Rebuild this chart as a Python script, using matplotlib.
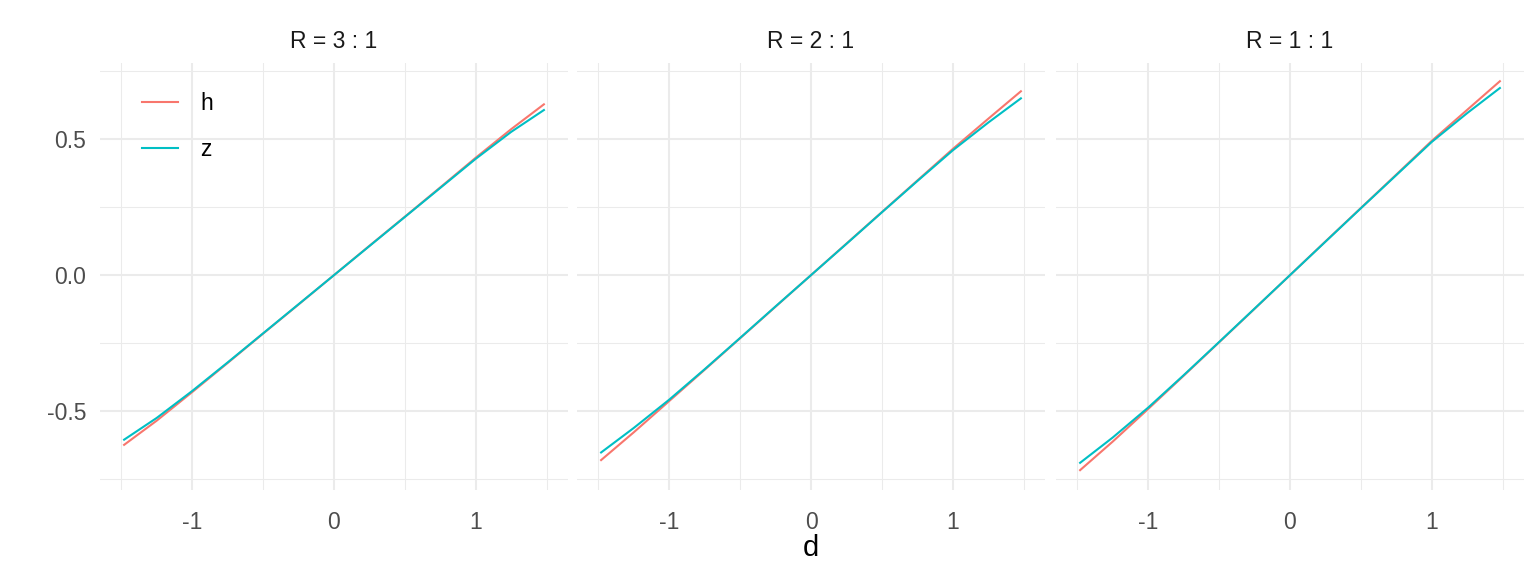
import matplotlib.pyplot as plt
from matplotlib.ticker import FixedLocator

plt.rcParams['font.family'] = ['Liberation Sans', 'DejaVu Sans']

# values
d = [-1.48, -1.25, -1.0, -0.75, -0.5, -0.25, 0.0, 0.25, 0.5, 0.75, 1.0, 1.25, 1.48]

panels = ["R = 3 : 1", "R = 2 : 1", "R = 1 : 1"]

h1 = [-0.624, -0.535, -0.430, -0.323, -0.215, -0.108, 0.0, 0.108, 0.215, 0.323, 0.432, 0.537, 0.628]
z1 = [-0.605, -0.525, -0.426, -0.321, -0.214, -0.107, 0.0, 0.107, 0.214, 0.321, 0.428, 0.527, 0.607]
h2 = [-0.680, -0.578, -0.463, -0.348, -0.232, -0.116, 0.0, 0.116, 0.232, 0.348, 0.464, 0.575, 0.676]
z2 = [-0.652, -0.562, -0.458, -0.346, -0.231, -0.115, 0.0, 0.115, 0.231, 0.346, 0.459, 0.561, 0.650]
h3 = [-0.717, -0.612, -0.492, -0.370, -0.247, -0.124, 0.0, 0.124, 0.247, 0.370, 0.494, 0.608, 0.713]
z3 = [-0.690, -0.597, -0.487, -0.368, -0.246, -0.123, 0.0, 0.123, 0.246, 0.368, 0.490, 0.596, 0.688]

h_series = [h1, h2, h3]
z_series = [z1, z2, z3]

xticks = [-1, 0, 1]
yticks = [-0.5, 0.0, 0.5]
ytick_labels = ["-0.5", "0.0", "0.5"]

H_COL = "#F8766D"
Z_COL = "#00BFC4"
GRID = "#EBEBEB"

fig = plt.figure(figsize=(10.24, 3.84), dpi=150)
lefts = [100 / 1536, 577 / 1536, 1056 / 1536]
w = 468 / 1536
bottom = 1 - 490 / 576
ht = (490 - 63) / 576

axes = []
for i, title in enumerate(panels):
    ax = fig.add_axes([lefts[i], bottom, w, ht])
    ax.plot(d, h_series[i], color=H_COL, lw=1.0, label="h", zorder=3)
    ax.plot(d, z_series[i], color=Z_COL, lw=1.0, label="z", zorder=3)
    ax.set_xlim(-1.65, 1.65)
    ax.set_ylim(-0.79, 0.78)
    ax.set_xticks(xticks)
    ax.set_xticklabels([str(t) for t in xticks])
    ax.xaxis.set_minor_locator(FixedLocator([-1.5, -0.5, 0.5, 1.5]))
    ax.set_yticks(yticks)
    ax.yaxis.set_minor_locator(FixedLocator([-0.75, -0.25, 0.25, 0.75]))
    if i == 0:
        ax.set_yticklabels(ytick_labels)
    else:
        ax.set_yticklabels([])
    ax.grid(which="major", color=GRID, lw=1.0)
    ax.grid(which="minor", color=GRID, lw=0.5)
    ax.set_axisbelow(True)
    for s in ax.spines.values():
        s.set_visible(False)
    ax.tick_params(which="both", length=0, labelsize=11, labelcolor="#4D4D4D")
    ax.tick_params(axis="x", pad=10)
    ax.tick_params(axis="y", pad=6.5)
    ax.text(0.5, 1 + 21 / 427, title, transform=ax.transAxes, ha="center",
            va="center", fontsize=11, color="#1A1A1A")
    axes.append(ax)

leg = axes[0].legend(loc="upper left", bbox_to_anchor=(0.0897, 0.933), frameon=False,
                     fontsize=11, handlelength=1.57, labelspacing=1.03, handletextpad=0.96,
                     borderpad=0, borderaxespad=0)

fig.text(811 / 1536, 1 - 548 / 576, "d", ha="center", va="center", fontsize=14)

fig.savefig("out.png", dpi=150)
